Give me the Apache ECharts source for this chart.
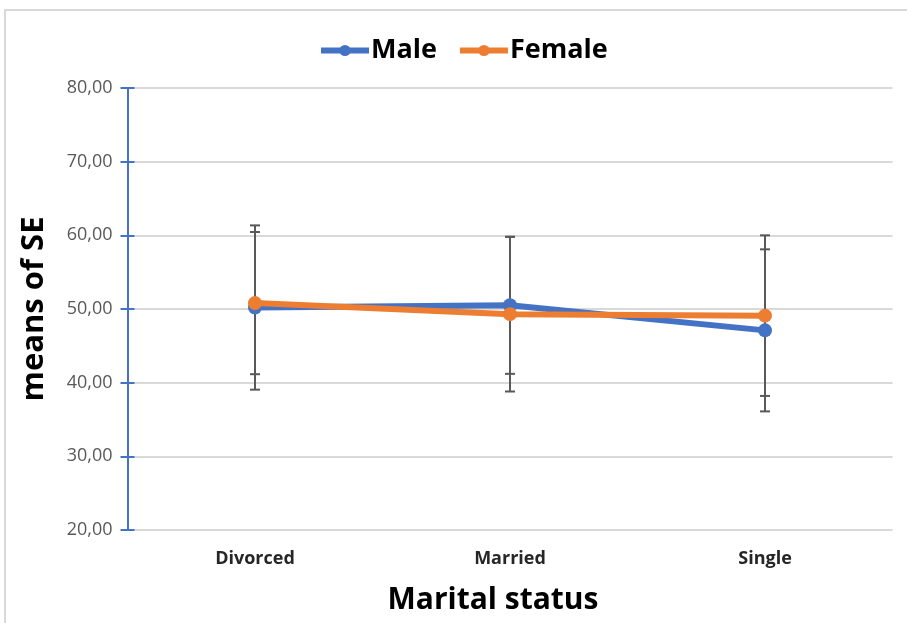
<!DOCTYPE html>
<html>
<head>
<meta charset="utf-8">
<script src="https://cdn.jsdelivr.net/npm/echarts@6/dist/echarts.min.js"></script>
<style>
  html, body { margin: 0; padding: 0; background: #fff; }
  #frame { position: absolute; left: 4px; top: 9px; width: 903px; height: 614px;
           border-top: 2px solid #d9d9d9; border-left: 2px solid #d9d9d9; box-sizing: border-box; }
  #chart { position: absolute; left: 0; top: 0; width: 907px; height: 623px; }
</style>
</head>
<body>
<div id="frame"></div>
<div id="chart"></div>
<script>
// Marital status categories
const categories = ['Divorced', 'Married', 'Single'];
// Mean scores per group
const maleMeans = [50.2, 50.5, 47.1];
const femaleMeans = [50.8, 49.3, 49.1];
// Half-width of the error bars per group
const maleErr = [11.15, 9.3, 11.0];
const femaleErr = [9.65, 10.5, 10.9];
// Value axis range and step
const yMin = 20, yMax = 80, yStep = 10;

const blue = '#4472C4';
const orange = '#ED7D31';
const fontFamily = '"Open Sans", "Noto Sans", sans-serif';

function errData(means, errs) {
  return means.map((m, i) => [i, m - errs[i], m + errs[i]]);
}

function renderErr(params, api) {
  const x = api.value(0);
  const lo = api.coord([x, api.value(1)]);
  const hi = api.coord([x, api.value(2)]);
  const half = 5;
  const style = { stroke: '#595959', lineWidth: 2 };
  return {
    type: 'group',
    children: [
      { type: 'line', shape: { x1: lo[0], y1: lo[1], x2: hi[0], y2: hi[1] }, style },
      { type: 'line', shape: { x1: lo[0] - half, y1: lo[1], x2: lo[0] + half, y2: lo[1] }, style },
      { type: 'line', shape: { x1: hi[0] - half, y1: hi[1], x2: hi[0] + half, y2: hi[1] }, style }
    ]
  };
}

const chart = echarts.init(document.getElementById('chart'), null, { renderer: 'canvas' });
chart.setOption({
  animation: false,
  textStyle: { fontFamily },
  legend: {
    top: 32,
    left: 313,
    itemWidth: 48,
    itemHeight: 14,
    itemGap: 20,
    lineStyle: { width: 6 },
    textStyle: { fontFamily, fontSize: 27, fontWeight: 'bold', color: '#000', padding: [0, 0, 0, -3] },
    data: ['Male', 'Female']
  },
  grid: { left: 127.5, right: 14.5, top: 88, bottom: 93 },
  xAxis: {
    type: 'category',
    data: categories,
    boundaryGap: true,
    name: 'Marital status',
    nameLocation: 'middle',
    nameGap: 55,
    nameTextStyle: { fontFamily, fontSize: 30, fontWeight: 'bold', color: '#000', padding: [0, 34, 0, 0] },
    axisLine: { show: false },
    axisTick: { show: false },
    axisLabel: { fontFamily, fontSize: 18, fontWeight: 'bold', color: '#262626', margin: 20 }
  },
  yAxis: [
    {
      type: 'value',
      min: yMin, max: yMax, interval: yStep,
      name: 'means of SE',
      nameLocation: 'middle',
      nameGap: 78,
      nameTextStyle: { fontFamily, fontSize: 31, fontWeight: 'bold', color: '#000' },
      axisLine: { show: true, lineStyle: { color: blue, width: 2 } },
      axisTick: { show: true, inside: false, length: 7, lineStyle: { color: blue, width: 2 } },
      axisLabel: {
        fontFamily, fontSize: 18, color: '#595959', margin: 15,
        formatter: v => v.toFixed(2).replace('.', ',')
      },
      splitLine: { show: true, lineStyle: { color: '#d9d9d9', width: 2 } }
    },
    {
      type: 'value',
      min: yMin, max: yMax, interval: yStep,
      position: 'left',
      axisLine: { show: false },
      axisTick: { show: true, inside: true, length: 7, lineStyle: { color: blue, width: 2 } },
      axisLabel: { show: false },
      splitLine: { show: false }
    }
  ],
  series: [
    {
      name: 'Male err', type: 'custom', renderItem: renderErr,
      data: errData(maleMeans, maleErr), z: 1, silent: true,
      encode: { x: 0, y: [1, 2] }
    },
    {
      name: 'Female err', type: 'custom', renderItem: renderErr,
      data: errData(femaleMeans, femaleErr), z: 1, silent: true,
      encode: { x: 0, y: [1, 2] }
    },
    {
      name: 'Male', type: 'line', data: maleMeans, z: 3,
      symbol: 'circle', symbolSize: 14,
      lineStyle: { color: blue, width: 6 },
      itemStyle: { color: blue }
    },
    {
      name: 'Female', type: 'line', data: femaleMeans, z: 4,
      symbol: 'circle', symbolSize: 14,
      lineStyle: { color: orange, width: 6 },
      itemStyle: { color: orange }
    }
  ]
});
</script>
</body>
</html>
